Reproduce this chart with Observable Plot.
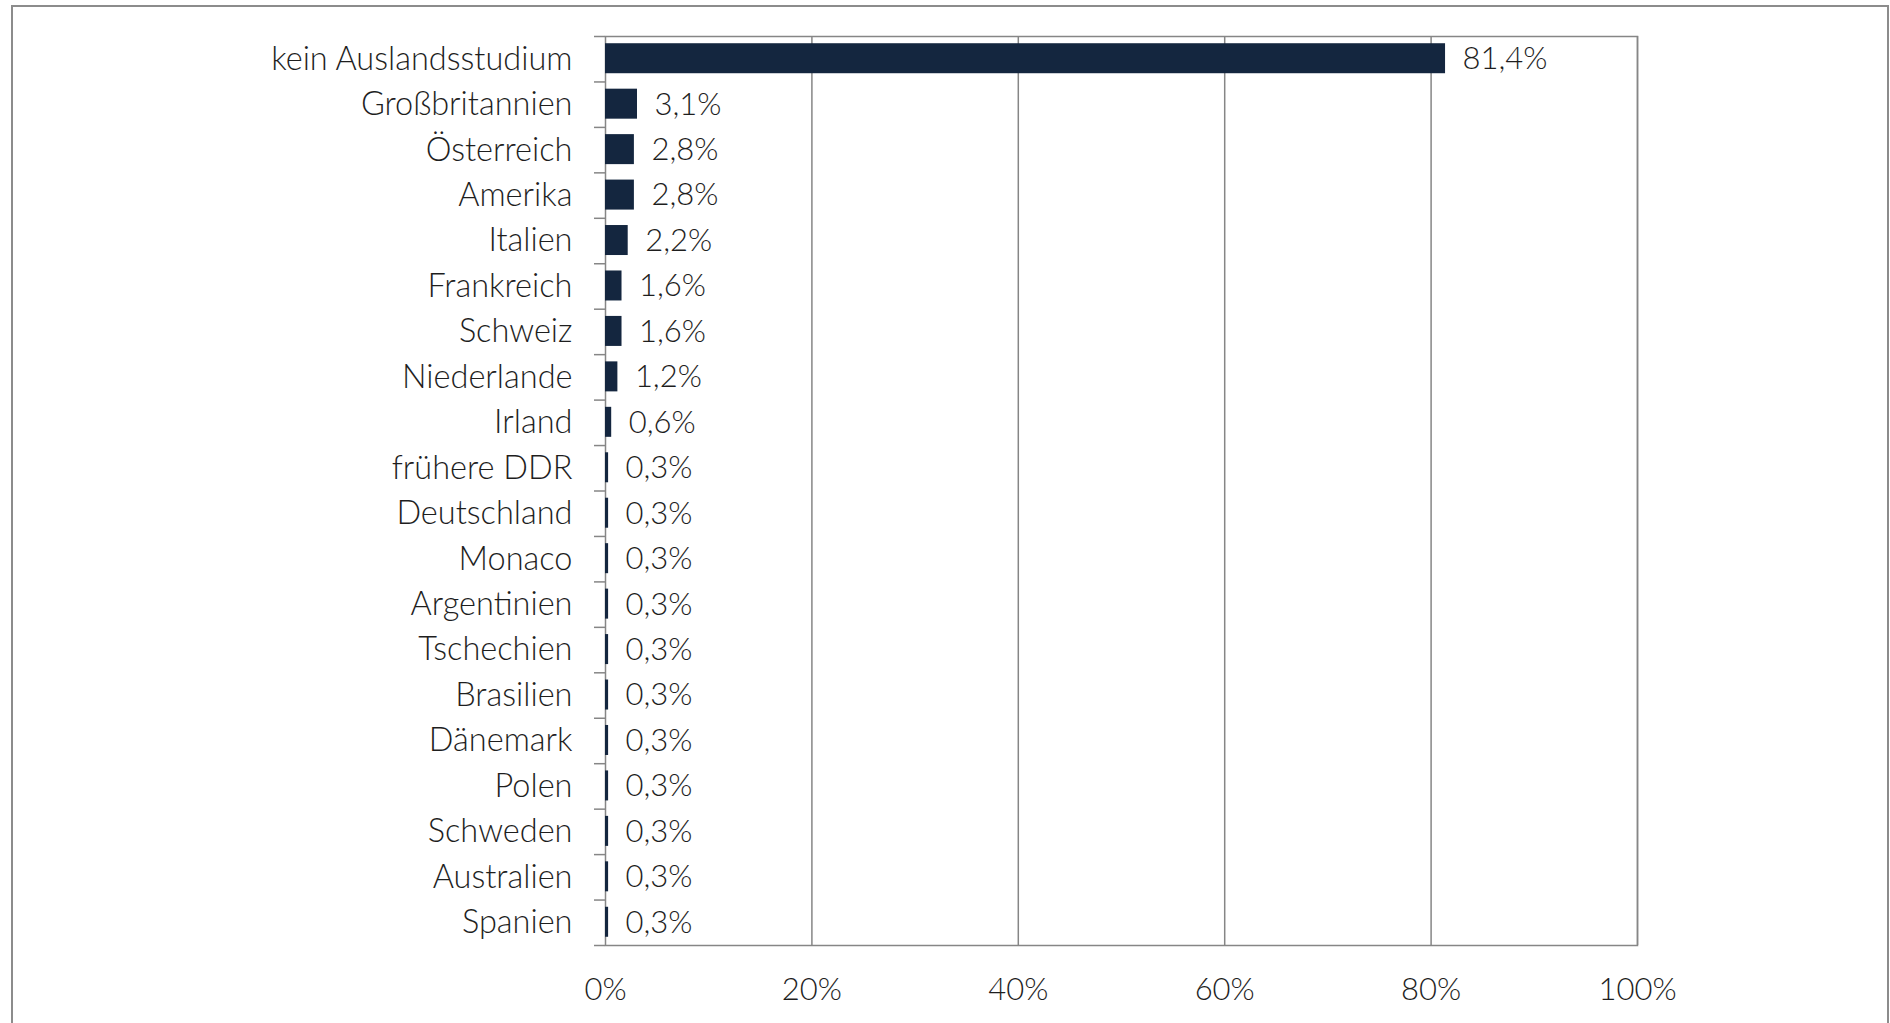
<!DOCTYPE html>
<html>
<head>
<meta charset="utf-8">
<script src="https://cdn.jsdelivr.net/npm/d3@7"></script>
<script src="https://cdn.jsdelivr.net/npm/@observablehq/plot@0.6"></script>
<style>
  html, body { margin: 0; padding: 0; background: #fff; }
  #wrap { position: relative; width: 1890px; height: 1023px; overflow: hidden; }
  #border { position: absolute; left: 11px; top: 5px; width: 1878px; height: 1100px;
            border: 2px solid #8c8c8c; box-sizing: border-box; }
  #chart { position: absolute; left: 0; top: 0; }
</style>
</head>
<body>
<div id="wrap"><div id="border"></div><div id="chart"></div></div>
<script>
const categories = ["kein Auslandsstudium", "Großbritannien", "Österreich", "Amerika", "Italien",
  "Frankreich", "Schweiz", "Niederlande", "Irland", "frühere DDR", "Deutschland", "Monaco",
  "Argentinien", "Tschechien", "Brasilien", "Dänemark", "Polen", "Schweden", "Australien", "Spanien"];
const values = [81.4, 3.1, 2.8, 2.8, 2.2, 1.6, 1.6, 1.2, 0.6, 0.3, 0.3, 0.3,
  0.3, 0.3, 0.3, 0.3, 0.3, 0.3, 0.3, 0.3];
const xTicks = [0, 20, 40, 60, 80, 100];

const data = categories.map((c, i) => ({category: c, value: values[i] / 100, label: values[i].toFixed(1).replace(".", ",") + "%"}));

const W = 1890, H = 1023;
const mTop = 36, mBottom = 78, mLeft = 605, mRight = 253;
const step = (H - mTop - mBottom) / categories.length;
const gray = "#868686";
const ink = "#1e1e1e";
const font = "Lato, 'Open Sans', sans-serif";

const chart = Plot.plot({
  width: W, height: H,
  marginTop: mTop, marginBottom: mBottom, marginLeft: mLeft, marginRight: mRight,
  style: {fontFamily: font, fontSize: "31px", fontWeight: 300, color: ink, background: "transparent"},
  x: {domain: [0, 1]},
  y: {domain: categories, paddingInner: 0.34, paddingOuter: 0.17, round: false, label: null},
  marks: [
    Plot.gridX(xTicks.slice(1).map(d => d / 100), {stroke: gray, strokeOpacity: 1, strokeWidth: 1.5}),
    Plot.frame({stroke: gray, strokeWidth: 1.5}),
    Plot.barX(data, {x: "value", y: "category", fill: "#14263f", dy: -0.5}),
    Plot.text(data, {x: "value", y: "category", text: "label", textAnchor: "start", dx: 17, fill: ink, fontSize: 31}),
    Plot.axisY({tickSize: 11, dy: -step / 2, text: null, label: null, stroke: gray, strokeWidth: 1.5}),
    Plot.axisY([categories[categories.length - 1]], {tickSize: 11, dy: step / 2, text: null, label: null, stroke: gray, strokeWidth: 1.5}),
    Plot.axisY({tickSize: 0, tickPadding: 33, label: null, fill: ink, fontSize: 32.5}),
    Plot.axisX(xTicks.map(d => d / 100), {tickSize: 0, tickPadding: 32, tickFormat: d => Math.round(d * 100) + "%", label: null, fill: ink, fontSize: 31})
  ]
});
document.getElementById("chart").appendChild(chart);
</script>
</body>
</html>
